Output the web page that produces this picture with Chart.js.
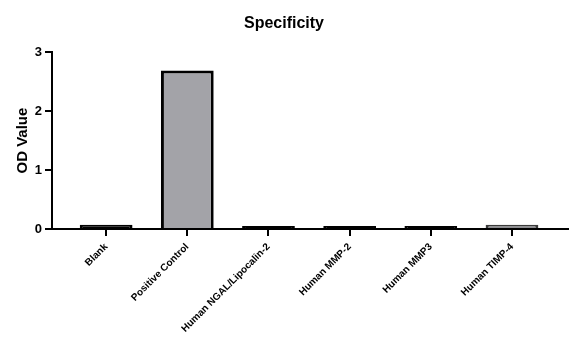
<!DOCTYPE html>
<html>
<head>
<meta charset="utf-8">
<script src="https://cdn.jsdelivr.net/npm/chart.js@4/dist/chart.umd.min.js"></script>
<style>
  html, body { margin: 0; padding: 0; background: #fff; }
  #wrap { width: 576px; height: 350px; }
</style>
</head>
<body>
<div id="wrap"><canvas id="specChart"></canvas></div>
<script>
// data
const categories = ['Blank', 'Positive Control', 'Human NGAL/Lipocalin-2', 'Human MMP-2', 'Human MMP3', 'Human TIMP-4'];
const odValues = [0.07, 2.69, 0.05, 0.05, 0.05, 0.07];
const yTicks = [0, 1, 2, 3];

const fillColors = ['#000000', '#a3a3a8', '#000000', '#000000', '#000000', '#8c8c90'];
const edgeColors = ['#000000', '#000000', '#000000', '#000000', '#000000', '#3a3a3a'];

const ctx = document.getElementById('specChart');

new Chart(ctx, {
    type: 'bar',
    data: {
        datasets: [{
            label: 'OD Value',
            data: odValues.map((v, i) => ({ x: i, y: v })),
            backgroundColor: fillColors,
            borderColor: edgeColors,
            borderWidth: 3,
            borderSkipped: 'bottom',
            barPercentage: 0.65,
            categoryPercentage: 1
        }]
    },
    options: {
        responsive: true,
        maintainAspectRatio: false,
        animation: false,
        layout: { padding: { left: 0, right: 8, top: 0, bottom: 0 } },
        plugins: {
            legend: { display: false },
            tooltip: { enabled: false },
            title: {
                display: true,
                text: 'Specificity',
                color: '#000',
                font: { family: 'Liberation Sans', size: 16, weight: 'bold' },
                padding: { top: 14, bottom: 19 }
            }
        },
        scales: {
            x: {
                type: 'linear',
                offset: false,
                min: -0.667,
                max: 5.69,
                afterBuildTicks: (axis) => {
                    axis.ticks = categories.map((_, i) => ({ value: i }));
                },
                afterFit: (axis) => { axis.height = 121; },
                ticks: {
                    autoSkip: false,
                    minRotation: 45,
                    maxRotation: 45,
                    color: '#000',
                    padding: 5,
                    font: { family: 'Liberation Sans', size: 10, weight: 'bold' },
                    callback: (v) => categories[v] ?? ''
                },
                grid: { offset: false, drawOnChartArea: false, drawTicks: true, tickLength: 7, color: '#000', lineWidth: 2 },
                border: { display: true, color: '#000', width: 2 }
            },
            y: {
                min: 0,
                max: 3,
                afterBuildTicks: (axis) => {
                    axis.ticks = yTicks.map(v => ({ value: v }));
                },
                afterFit: (axis) => { axis.width = 52; },
                title: {
                    display: true,
                    text: 'OD Value',
                    color: '#000',
                    font: { family: 'Liberation Sans', size: 15, weight: 'bold' },
                    padding: { top: 14, bottom: 0 }
                },
                ticks: {
                    color: '#000',
                    padding: 3,
                    font: { family: 'Liberation Sans', size: 13, weight: 'bold' }
                },
                grid: { drawOnChartArea: false, drawTicks: true, tickLength: 7, color: '#000', lineWidth: 2 },
                border: { display: true, color: '#000', width: 2 }
            }
        }
    }
});
</script>
</body>
</html>
